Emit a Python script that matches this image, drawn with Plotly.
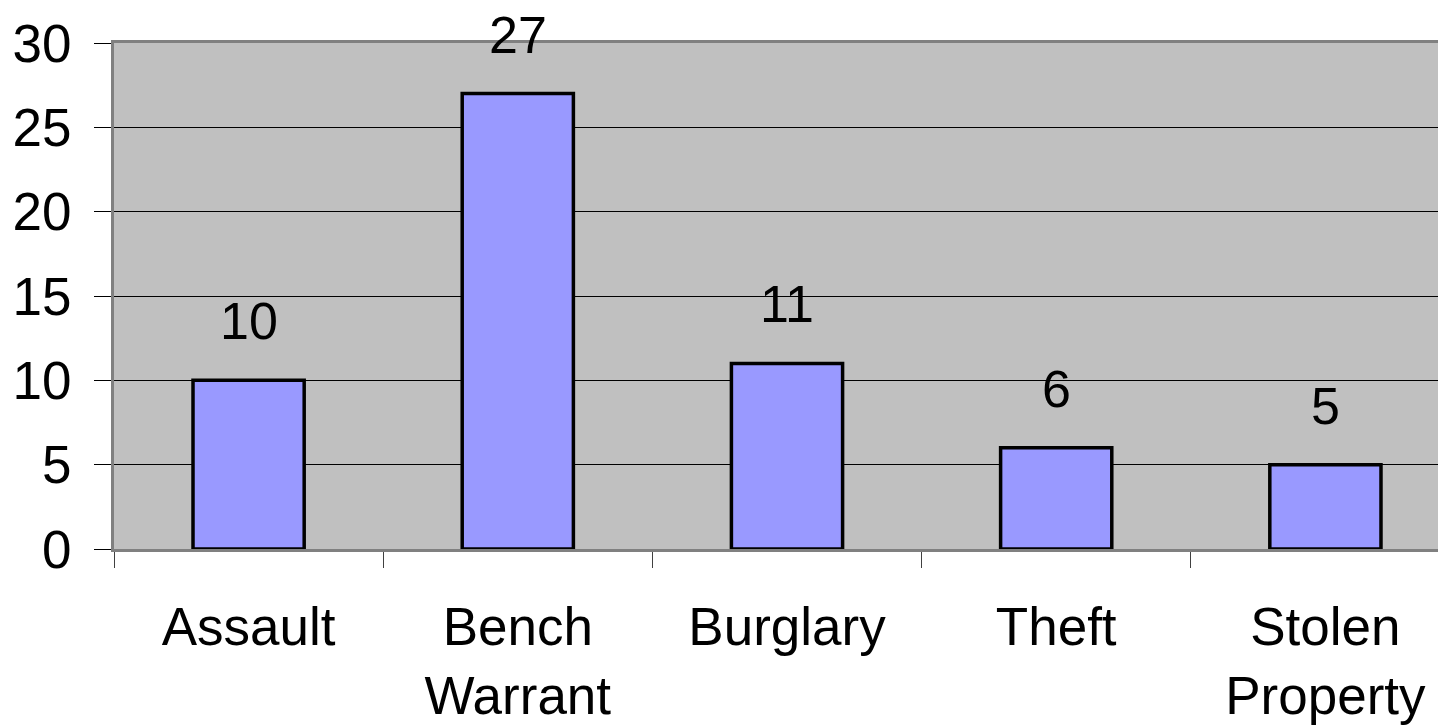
import plotly.graph_objects as go

categories = ["Assault", "Bench<br>Warrant", "Burglary", "Theft", "Stolen<br>Property"]
values = [10, 27, 11, 6, 5]
y_ticks = [0, 5, 10, 15, 20, 25, 30]

FONT = "Liberation Sans, Arial, sans-serif"

fig = go.Figure()
fig.add_trace(go.Bar(
    x=categories, y=values, width=0.413,
    marker=dict(color="#9999FF", line=dict(color="black", width=3.5)),
    hoverinfo="skip",
))

for c, v in zip(categories, values):
    fig.add_annotation(x=c, y=v, text=str(v), showarrow=False,
                       yanchor="middle", yshift=59,
                       font=dict(family=FONT, size=52, color="black"))

# page body has an 8px default margin, so the figure is offset by 8px
fig.update_layout(
    width=1438, height=718,
    margin=dict(l=106, r=0, t=35, b=177, autoexpand=False),
    paper_bgcolor="white", plot_bgcolor="#C0C0C0",
    showlegend=False,
    font=dict(family=FONT, size=52, color="black"),
)
fig.update_xaxes(
    type="category", range=[-0.5, 4.448], automargin=False,
    showline=True, linecolor="#808080", linewidth=3, mirror=True,
    ticks="outside", tickson="boundaries", ticklen=16, tickcolor="#404040", tickwidth=1,
    showgrid=False, ticklabelstandoff=29,
    tickfont=dict(family=FONT, size=53, color="black"),
)
fig.update_yaxes(
    range=[0, 30], tickvals=y_ticks, automargin=False,
    showline=True, linecolor="#808080", linewidth=3,
    showgrid=True, gridcolor="black", gridwidth=1, zeroline=False,
    ticks="outside", ticklen=17, tickcolor="black", tickwidth=1,
    ticklabelstandoff=12,
    tickfont=dict(family=FONT, size=53, color="black"),
)

fig.write_html("out.html")
